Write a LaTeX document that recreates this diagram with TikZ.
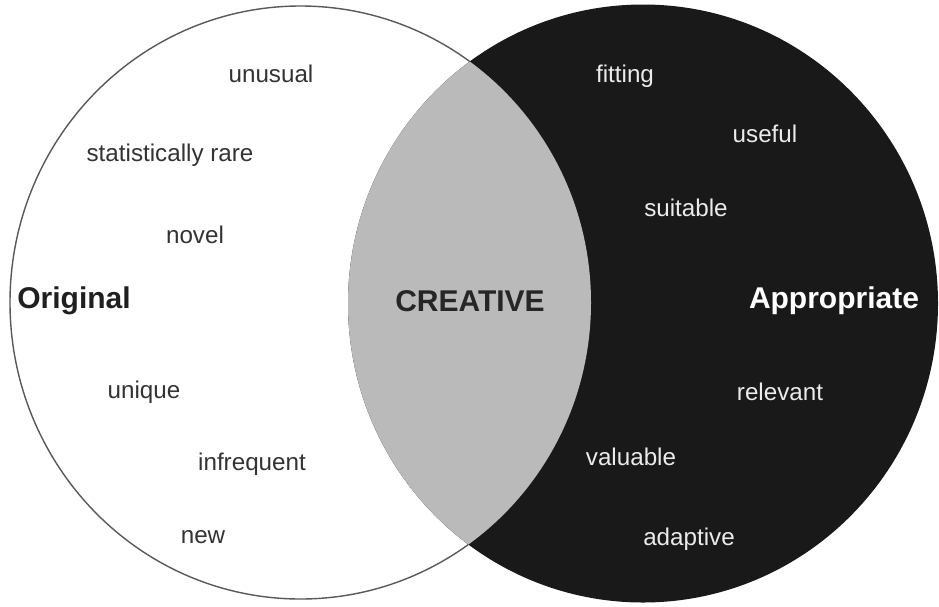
\documentclass[tikz,border=0pt]{standalone}
\usepackage{fontspec}
\setmainfont{Liberation Sans}
\begin{document}
\begin{tikzpicture}[x=1pt,y=-1pt,
  word/.style={font=\fontsize{24.2}{27}\selectfont, inner sep=0pt},
  darkword/.style={word, text=black!80},
  lightword/.style={word, text=black!8},
  title/.style={font=\fontsize{30}{33}\selectfont\bfseries, inner sep=0pt}]
\useasboundingbox (0,0) rectangle (939,606);
\fill[white] (0,0) rectangle (939,606);
% left set
\draw[black!65, line width=1.4pt, fill=white] (300.5,302.5) ellipse [x radius=290.5, y radius=296.5];
% right set
\fill[black!90] (643,303.5) ellipse [x radius=295, y radius=299];
% intersection
\begin{scope}
  \clip (300.5,302.5) ellipse [x radius=290.5, y radius=296.5];
  \fill[black!27] (643,303.5) ellipse [x radius=295, y radius=299];
\end{scope}
% left words
\node[darkword] (unusual) at (271,74) {unusual};
\node[darkword] (rare) at (170,155) {statistically rare};
\node[darkword] (novel) at (195,235) {novel};
\node[title, text=black!88] (original) at (74,301) {Original};
\node[darkword] (unique) at (144,392) {unique};
\node[darkword] (infrequent) at (252,464) {infrequent};
\node[darkword] (new) at (203,537) {new};
% centre
\node[title, text=black!85] (creative) at (470,301) {CREATIVE};
% right words
\node[title, text=white] (appropriate) at (834,301) {Appropriate};
\node[lightword] (fitting) at (625,76) {fitting};
\node[lightword] (useful) at (765,134) {useful};
\node[lightword] (suitable) at (686,208) {suitable};
\node[lightword] (relevant) at (780,392) {relevant};
\node[lightword] (valuable) at (631,457) {valuable};
\node[lightword] (adaptive) at (689,539) {adaptive};
\end{tikzpicture}
\end{document}
